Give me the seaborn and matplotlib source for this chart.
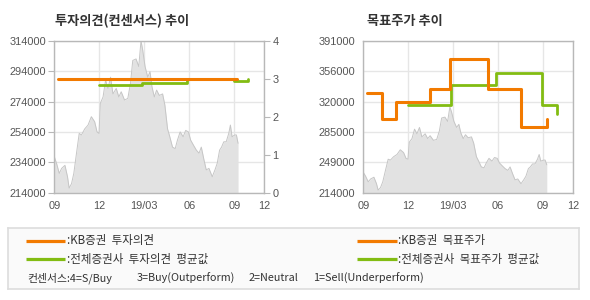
import matplotlib
matplotlib.use("Agg")
import matplotlib.pyplot as plt
import seaborn as sns
import pandas as pd
import numpy as np

sns.set_theme(style="white")
plt.rcParams['font.family'] = ['Noto Sans CJK KR', 'DejaVu Sans']

# ---- data (x in months since 2018-09) ----
price_x = [0.00, 0.15, 0.33, 0.49, 0.71, 0.88, 0.99, 1.15, 1.30, 1.48, 1.66, 1.81, 2.03, 2.25,
           2.47, 2.69, 2.85, 2.98, 3.07, 3.25, 3.42, 3.58, 3.75, 3.91, 4.13, 4.30, 4.46, 4.68,
           4.90, 5.08, 5.23, 5.45, 5.63, 5.78, 5.89, 6.05, 6.23, 6.38, 6.51, 6.67, 6.82, 7.00,
           7.22, 7.37, 7.55, 7.70, 7.88, 8.06, 8.21, 8.39, 8.59, 8.76, 8.94, 9.09, 9.27, 9.47,
           9.65, 9.80, 9.98, 10.13, 10.31, 10.53, 10.71, 10.86, 11.02, 11.15, 11.30, 11.46,
           11.63, 11.74, 11.85, 12.03, 12.14, 12.25]
price_y = [237700, 233300, 226700, 230000, 232000, 224500, 217000, 220000, 226700, 240000,
           253000, 252000, 256000, 258500, 264000, 260700, 254000, 253000, 272800, 277000,
           288000, 282600, 290000, 279000, 282600, 277000, 280400, 275000, 276000, 286000,
           301000, 302000, 297000, 314000, 308000, 297000, 290000, 293600, 283700, 277000,
           281500, 278000, 279000, 271700, 256000, 250800, 244000, 243000, 248600, 254000,
           250800, 255000, 254000, 248600, 245400, 242000, 240000, 244000, 235500, 229000,
           230000, 224500, 229000, 233300, 242000, 244000, 247500, 247500, 253000, 258500,
           250800, 252000, 252000, 246500]

kb_opinion_x = [0.26, 12.19]
kb_opinion_y = [3.0, 3.0]
avg_opinion_x = [2.96, 5.86, 8.87, 11.98, 12.90]
avg_opinion_y = [2.83, 2.88, 3.00, 2.95, 3.00]

kb_target_x = [0.27, 1.25, 2.21, 4.42, 5.82, 8.34, 10.55, 12.28]
kb_target_y = [330000, 300000, 320000, 335000, 370000, 335000, 290000, 300000]
avg_target_x = [2.99, 5.86, 8.89, 11.95, 12.94]
avg_target_y = [316000, 339000, 353000, 316000, 306000]

x_ticks = [0, 3, 6, 9, 12, 14]
x_labels = ['09', '12', '19/03', '06', '09', '12']
left_yticks = [214000, 234000, 254000, 274000, 294000, 314000]
opinion_ticks = [0, 1, 2, 3, 4]
right_ylabels = ['214000', '249000', '285000', '320000', '356000', '391000']

titles = ['투자의견(컨센서스) 추이', '목표주가 추이']
legend_left = [':KB증권  투자의견', ':전체증권사  투자의견  평균값']
legend_right = [':KB증권  목표주가', ':전체증권사  목표주가  평균값']
consensus_parts = ['컨센서스:4=S/Buy', '3=Buy(Outperform)', '2=Neutral', '1=Sell(Underperform)']

ORANGE = '#f27a00'
GREEN = '#82bc12'
FILL = '#e2e2e2'
EDGE = '#c6c6c6'
FRAME = '#b8b8b8'
GRID = '#e6e6e6'
TICKC = '#555555'

price_df = pd.DataFrame({'x': price_x, 'y': price_y})

fig = plt.figure(figsize=(5.9, 3.0), dpi=100)
W, H = 590, 300


def ax_rect(l, t, r, b):
    return [l / W, 1 - b / H, (r - l) / W, (b - t) / H]


def style_axis(ax, ymin, ymax, yticks, ylabels):
    ax.fill_between(price_x, ymin, price_y, color=FILL, lw=0, zorder=1)
    sns.lineplot(data=price_df, x='x', y='y', ax=ax, color=EDGE, lw=0.7, zorder=2)
    ax.set_xlim(0, 14)
    ax.set_ylim(ymin, ymax)
    ax.set_xticks(x_ticks)
    ax.set_xticklabels(x_labels)
    ax.set_yticks(yticks)
    ax.set_yticklabels(ylabels)
    ax.set_xlabel('')
    ax.set_ylabel('')
    ax.grid(True, color=GRID, lw=1.0, zorder=0)
    ax.set_axisbelow(True)
    for s in ax.spines.values():
        s.set_color(FRAME)
        s.set_linewidth(1.0)
    ax.tick_params(axis='both', which='both', length=4, width=0.8, color=FRAME,
                   labelsize=7.9, labelcolor=TICKC, pad=2, direction='out')
    for lab in ax.get_xticklabels() + ax.get_yticklabels():
        lab.set_fontfamily(['Liberation Sans', 'DejaVu Sans'])
    ax.set_facecolor('white')


# ---- left chart ----
ax1 = fig.add_axes(ax_rect(54.3, 40.7, 264.3, 192.7))
style_axis(ax1, 214000, 314000, left_yticks, [str(v) for v in left_yticks])
ax1b = ax1.twinx()
ax1b.set_ylim(0, 4)
ax1b.set_yticks(opinion_ticks)
ax1b.set_yticklabels([str(v) for v in opinion_ticks])
ax1b.tick_params(axis='y', length=4, width=0.8, color=FRAME, labelsize=7.9,
                 labelcolor=TICKC, pad=2)
for lab in ax1b.get_yticklabels():
    lab.set_fontfamily(['Liberation Sans', 'DejaVu Sans'])
for s in ax1b.spines.values():
    s.set_visible(False)
sns.lineplot(x=avg_opinion_x, y=avg_opinion_y, ax=ax1b, color=GREEN, lw=2.0,
             drawstyle='steps-post', zorder=3)
sns.lineplot(x=kb_opinion_x, y=kb_opinion_y, ax=ax1b, color=ORANGE, lw=2.2,
             drawstyle='steps-post', zorder=4)
ax1b.set_xlim(0, 14)

# ---- right chart ----
ax2 = fig.add_axes(ax_rect(363.3, 40.7, 573.0, 192.7))
rticks = list(np.linspace(214000, 391000, 6))
style_axis(ax2, 214000, 391000, rticks, right_ylabels)
sns.lineplot(x=avg_target_x, y=avg_target_y, ax=ax2, color=GREEN, lw=2.0,
             drawstyle='steps-post', zorder=3)
sns.lineplot(x=kb_target_x, y=kb_target_y, ax=ax2, color=ORANGE, lw=2.2,
             drawstyle='steps-post', zorder=4)
ax2.set_xlabel('')
ax2.set_ylabel('')

# titles
fig.text(55 / W, 1 - 21 / H, titles[0], fontsize=9.5, fontweight='bold', color='#333333',
         va='center', ha='left')
fig.text(367 / W, 1 - 21 / H, titles[1], fontsize=9.5, fontweight='bold', color='#333333',
         va='center', ha='left')

# ---- legend box ----
axl = fig.add_axes(ax_rect(8, 228, 579, 289))
axl.set_xlim(8, 579)
axl.set_ylim(289, 228)
axl.set_xticks([])
axl.set_yticks([])
axl.set_facecolor('#fafafa')
for s in axl.spines.values():
    s.set_color('#dddddd')
    s.set_linewidth(1.2)

rows_y = [240.7, 259.0]
for (lx0, lx1, tx, labels) in [(26, 65, 67, legend_left), (357, 397, 398, legend_right)]:
    for yy, col, lab in zip(rows_y, [ORANGE, GREEN], labels):
        axl.plot([lx0, lx1], [yy, yy], color=col, lw=2.3, solid_capstyle='butt')
        axl.text(tx, yy, lab, fontsize=8.3, color='#333333', va='center', ha='left')

for xx, part in zip([27, 137, 249, 313], consensus_parts):
    axl.text(xx, 278, part, fontsize=7.8, color='#333333', va='center', ha='left')

fig.savefig('out.png', dpi=100, facecolor='white')
